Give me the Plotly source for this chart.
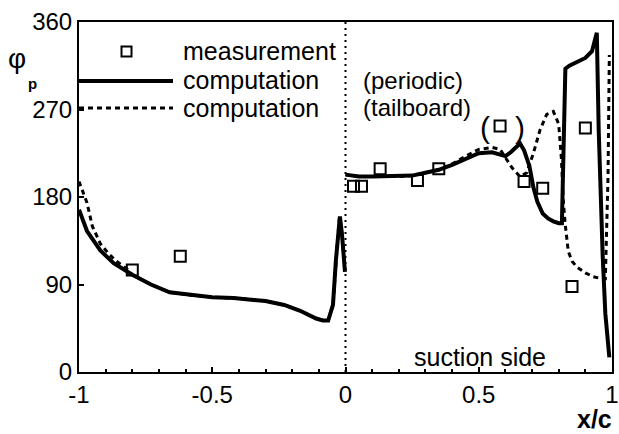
import plotly.graph_objects as go

# ---------------- data ----------------
meas_x = [-0.80, -0.62, 0.03, 0.06, 0.13, 0.27, 0.35, 0.58, 0.67, 0.74, 0.85, 0.90]
meas_y = [105, 119, 191, 191, 209, 197, 209, 253, 196, 189, 88, 251]

# periodic computation (solid): pressure side (x<0) and suction side (x>0)
per_ps_x = [-1.0, -0.97, -0.92, -0.87, -0.80, -0.73, -0.66, -0.58, -0.50, -0.42, -0.36, -0.30,
            -0.23, -0.17, -0.11, -0.085, -0.065, -0.047, -0.036, -0.024, -0.021, -0.013, -0.002]
per_ps_y = [167, 145, 125, 112, 100, 90, 82, 79, 77, 76, 75, 73,
            69, 63, 55, 53, 53, 69, 115, 156, 160, 141, 103]
per_ss_x = [0.0, 0.05, 0.10, 0.15, 0.20, 0.25, 0.30, 0.35, 0.40, 0.45, 0.50, 0.55, 0.60,
            0.62, 0.64, 0.655, 0.67, 0.69, 0.705, 0.72, 0.74, 0.76, 0.78, 0.80, 0.812,
            0.818, 0.825, 0.84, 0.87, 0.90, 0.925, 0.935, 0.943, 0.950, 0.957, 0.965,
            0.975, 0.985, 0.99]
per_ss_y = [203, 201, 201, 201, 201, 202, 205, 208, 213, 219, 225, 226, 222,
            226, 232, 235, 228, 212, 190, 175, 163, 158, 155, 153, 153,
            230, 312, 315, 319, 323, 330, 340, 349, 250, 180, 120,
            60, 30, 15]

# tailboard computation (dashed)
tb_ps_x = [-1.0, -0.985, -0.97, -0.95, -0.92, -0.89, -0.86, -0.82, -0.80, -0.73, -0.66, -0.58,
           -0.50, -0.42, -0.36, -0.30, -0.23, -0.17, -0.11, -0.085, -0.065, -0.047, -0.036,
           -0.024, -0.021, -0.013, -0.002]
tb_ps_y = [196, 185, 174, 150, 132, 122, 114, 106, 100, 90, 82, 79,
           77, 76, 75, 73, 69, 63, 55, 53, 53, 69, 115,
           156, 160, 141, 103]
tb_ss_x = [0.0, 0.05, 0.10, 0.15, 0.20, 0.25, 0.30, 0.35, 0.40, 0.45, 0.50, 0.55, 0.58,
           0.60, 0.625, 0.655, 0.68, 0.705, 0.73, 0.755, 0.78, 0.80, 0.81, 0.817, 0.824,
           0.836, 0.85, 0.868, 0.90, 0.93, 0.96, 0.975, 0.985, 0.99]
tb_ss_y = [203, 201, 201, 201, 201, 202, 205, 208, 214, 222, 229, 231, 229,
           220, 210, 201, 205, 225, 249, 265, 268, 255, 220, 177, 153,
           124, 114, 108, 102, 98, 96, 96, 200, 326]

x_ticks = [-1, -0.5, 0, 0.5, 1]
x_tick_labels = ["-1", "-0.5", "0", "0.5", "1"]
y_ticks = [0, 90, 180, 270, 360]
y_tick_labels = ["0", "90", "180", "270", "360"]

# ---------------- figure ----------------
W, H = 619, 434
ML, MR, MT, MB = 79, 7, 22, 62
PW, PH = W - ML - MR, H - MT - MB


def px(x):
    return (x - ML) / PW


def py(y):
    return (H - MB - y) / PH


FONT = "Liberation Sans, Arial, Helvetica, sans-serif"

fig = go.Figure()

fig.add_trace(go.Scatter(
    x=tb_ps_x + [None] + tb_ss_x, y=tb_ps_y + [None] + tb_ss_y,
    mode="lines", line=dict(color="black", width=3, dash="5px,4px"),
    showlegend=False, hoverinfo="skip"))
fig.add_trace(go.Scatter(
    x=per_ps_x + [None] + per_ss_x, y=per_ps_y + [None] + per_ss_y,
    mode="lines", line=dict(color="black", width=4),
    showlegend=False, hoverinfo="skip"))
fig.add_trace(go.Scatter(
    x=meas_x, y=meas_y, mode="markers",
    marker=dict(symbol="square-open", size=11, color="black", line=dict(width=2)),
    showlegend=False, hoverinfo="skip"))

shapes = []
# dotted vertical line at x=0
shapes.append(dict(type="line", xref="x", yref="paper", x0=0, x1=0, y0=0, y1=1,
                   line=dict(color="black", width=2, dash="2px,4px")))
# legend samples
shapes.append(dict(type="rect", xref="paper", yref="paper",
                   x0=px(121.5), x1=px(131.5), y0=py(56.5), y1=py(46.5),
                   line=dict(color="black", width=2)))
shapes.append(dict(type="line", xref="paper", yref="paper",
                   x0=0, x1=px(173), y0=py(81), y1=py(81),
                   line=dict(color="black", width=4)))
shapes.append(dict(type="line", xref="paper", yref="paper",
                   x0=0, x1=px(173), y0=py(108), y1=py(108),
                   line=dict(color="black", width=3, dash="5px,4px")))

ann = []


def text(x, y, s, size=26, xanchor="left", bold=False):
    ann.append(dict(xref="paper", yref="paper", x=px(x), y=py(y), text=("<b>%s</b>" % s) if bold else s,
                    showarrow=False, xanchor=xanchor, yanchor="middle",
                    font=dict(family=FONT, size=size, color="black")))


text(181, 51, "measurement", size=25)
text(181, 80, "computation", size=25)
text(181, 108, "computation", size=25)
text(361, 80, "(periodic)", size=24)
text(361, 108, "(tailboard)", size=24)
text(480, 357, "suction side", size=25, xanchor="center")
text(502.5, 127, "(&nbsp;&nbsp;&nbsp;)", size=30, xanchor="center")
text(17, 58, "φ", size=28, xanchor="center")
text(32, 83, "p", size=15, xanchor="center", bold=True)
text(614, 419, "x/c", size=25, xanchor="right", bold=True)

fig.update_layout(
    width=W, height=H,
    margin=dict(l=ML, r=MR, t=MT, b=MB, autoexpand=False),
    paper_bgcolor="white", plot_bgcolor="white",
    font=dict(family=FONT, size=24, color="black"),
    shapes=shapes, annotations=ann,
    xaxis=dict(range=[-1, 1], tickvals=x_ticks, ticktext=x_tick_labels, automargin=False,
               showgrid=False, zeroline=False, showline=True, linecolor="black", linewidth=2,
               mirror=True, ticks="inside", ticklen=5, tickwidth=2, tickcolor="black",
               minor=dict(dtick=0.1, ticks="inside", ticklen=3, tickwidth=1.5, tickcolor="black",
                          showgrid=False),
               tickfont=dict(size=24)),
    yaxis=dict(range=[0, 360], tickvals=y_ticks, ticktext=y_tick_labels, automargin=False,
               showgrid=False, zeroline=False, showline=True, linecolor="black", linewidth=2,
               mirror=True, ticks="inside", ticklen=5, tickwidth=2, tickcolor="black",
               tickfont=dict(size=24)),
)

fig.write_html("out.html", config={"displayModeBar": False},
               post_script="document.body.style.margin='0px';document.body.style.overflow='hidden';")
